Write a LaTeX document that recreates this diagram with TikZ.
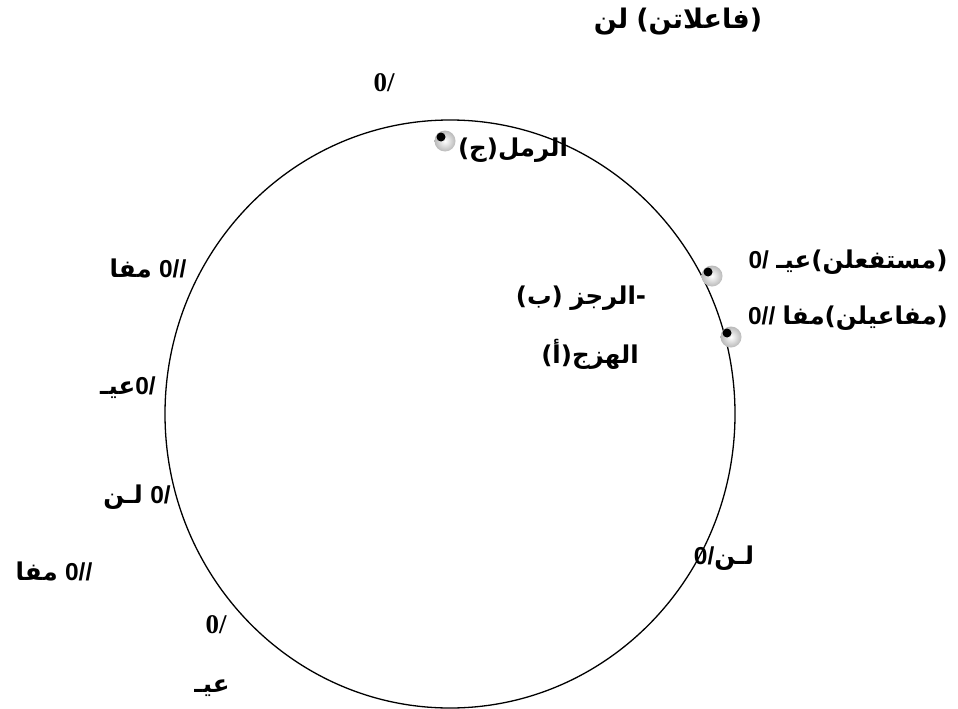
\documentclass[tikz,border=0pt]{standalone}
\usepackage{fontspec}
\newfontfamily\arfont[Script=Arabic]{DejaVu Sans}
\newfontfamily\lsans{Liberation Sans}
\newfontfamily\lserif{Liberation Serif}
\TeXXeTstate=1
\newcommand{\AR}[1]{{\arfont\bfseries #1}\kern0pt}
\newcommand{\NU}[1]{{\lsans\bfseries #1}\kern0pt}
\begin{document}
\begin{tikzpicture}[x=1pt,y=-1pt,
  lbl/.style={inner sep=0pt, font=\fontsize{24.5}{28}\selectfont},
  biglbl/.style={inner sep=0pt, font=\fontsize{27}{30}\selectfont},
  slbl/.style={inner sep=0pt, font=\lserif\bfseries\fontsize{27}{30}\selectfont},
  halo/.style={circle, inner sep=0pt, minimum size=21pt, inner color=white, outer color=gray!55},
  blackdot/.style={circle, inner sep=0pt, minimum size=9pt, fill=black}]
\useasboundingbox (0,0) rectangle (958,709);
\fill[white] (0,0) rectangle (958,709);
\draw[line width=1.3pt] (450,414) ellipse [x radius=285, y radius=294];

% dots
\node[halo] (h1) at (445,141) {};
\node[blackdot] (d1) at (441,137) {};
\node[halo] (h2) at (712,276) {};
\node[blackdot] (d2) at (708,272) {};
\node[halo] (h3) at (731,337) {};
\node[blackdot] (d3) at (727,333) {};

% labels
\node[biglbl] (a) at (678,22) {\AR{لن}\ \AR{(فاعلاتن)}};
\node[slbl] (b) at (384,83) {0/};
\node[lbl] (c) at (513,150) {\AR{(ج)}\AR{الرمل}};
\node[lbl] (d) at (848,262) {\NU{0/}\ \AR{عيـ}\AR{(مستفعلن)}};
\node[lbl] (e) at (848,318) {\NU{0//}\ \AR{مفا}\AR{(مفاعيلن)}};
\node[lbl] (f) at (581,298) {\AR{(ب)}\ \AR{الرجز}\AR{-}};
\node[lbl] (g) at (590,354) {\AR{(أ)}\AR{الهزج}};
\node[lbl] (hh) at (148,268) {\AR{مفا}\ \NU{0//}};
\node[lbl] (i) at (128,388) {\AR{عيـ}\NU{0/}};
\node[lbl] (j) at (137,497) {\AR{لـن}\ \NU{0/}};
\node[lbl] (k) at (54,571) {\AR{مفا}\ \NU{0//}};
\node[slbl] (l) at (216,625) {0/};
\node[lbl] (m) at (212,688) {\AR{عيـ}};
\node[lbl] (n) at (724,558) {\NU{0/}\AR{لـن}};
\end{tikzpicture}
\end{document}
